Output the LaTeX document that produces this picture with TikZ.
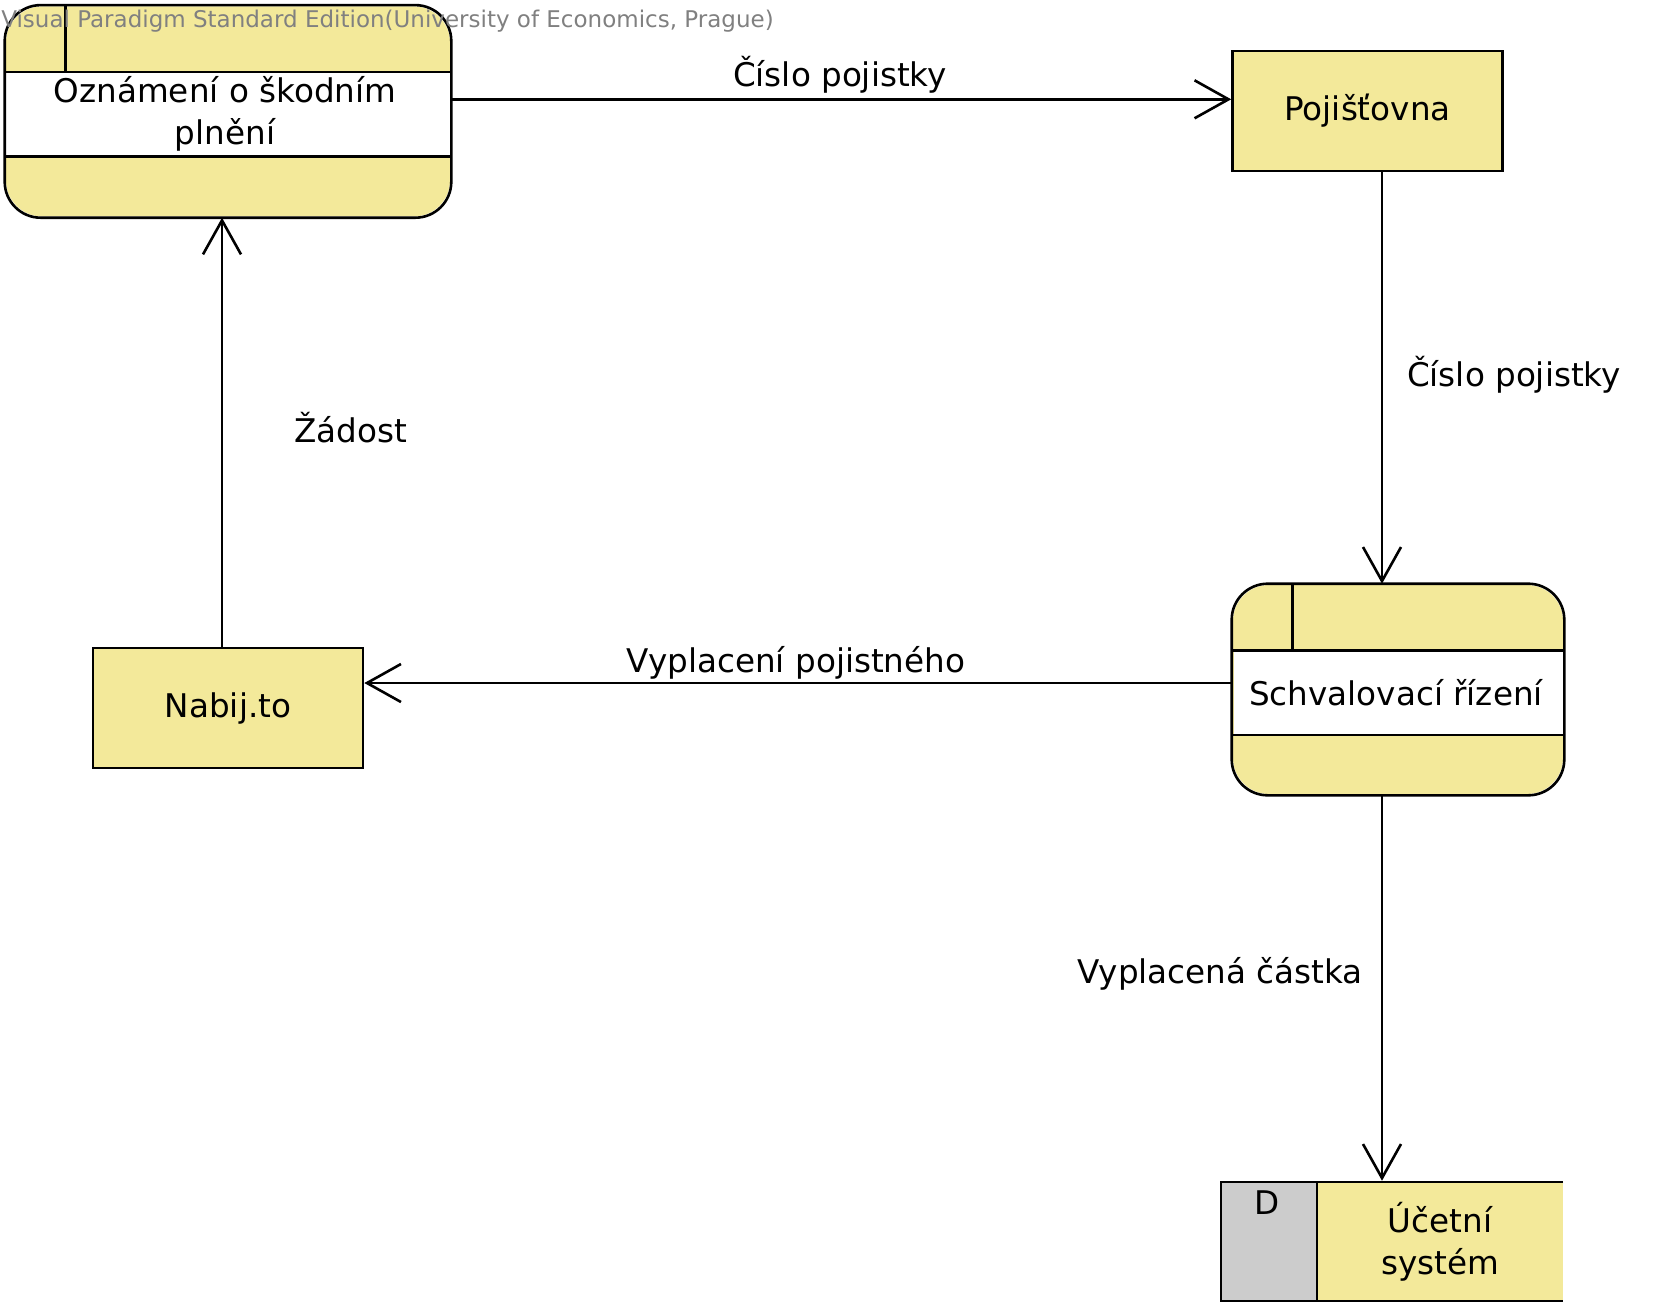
\documentclass[tikz,border=0pt]{standalone}
\usepackage{fontspec}
\setmainfont{DejaVu Sans}
\usetikzlibrary{arrows.meta}
\definecolor{procyellow}{RGB}{243, 233, 154}
\definecolor{storegray}{RGB}{204, 204, 204}
\definecolor{markgray}{RGB}{128, 128, 128}

\begin{document}
\begin{tikzpicture}[x=0.5pt, y=-0.5pt, line width=1.3pt,
  every node/.style={font=\fontsize{16.3}{21}\selectfont},
  entity/.style={draw, fill=procyellow, minimum width=135pt, minimum height=60pt, inner sep=0pt},
  process/.style={fill=procyellow, rounded corners=18pt, inner sep=0pt},
  flow/.style={-{Straight Barb[length=17pt, width=19pt]}},
  flowlabel/.style={inner sep=1pt}]
  \useasboundingbox (0,0) rectangle (1656,1314);

  % Process: Oznameni o skodnim plneni
  \node[process, minimum width=222pt, minimum height=105pt] (oznameni) at (228,111.4) {};
  \fill[white] (6.3,71.8) rectangle (450,156.3);
  \draw[rounded corners=18pt] (oznameni.south west) rectangle (oznameni.north east);
  \draw (oznameni.west |- 0,71.8) -- (oznameni.east |- 0,71.8);
  \draw (oznameni.west |- 0,156.3) -- (oznameni.east |- 0,156.3);
  \draw (65.5,0 |- oznameni.north) -- (65.5,71.8);
  \node[align=center] (oznameniText) at (225,114) {Oznámení o škodním\\plnění};

  % Entity: Pojistovna
  \node[entity] (pojistovna) at (1367.5,111) {Pojišťovna};

  % Process: Schvalovaci rizeni
  \node[process, minimum width=165pt, minimum height=104.5pt] (schval) at (1398,689.5) {};
  \fill[white] (1233.5,650.5) rectangle (1563,735);
  \draw[rounded corners=18pt] (schval.south west) rectangle (schval.north east);
  \draw (schval.west |- 0,650.5) -- (schval.east |- 0,650.5);
  \draw (schval.west |- 0,735) -- (schval.east |- 0,735);
  \draw (1292.6,0 |- schval.north) -- (1292.6,650.5);
  \node (schvalText) at (1396,693) {Schvalovací řízení};

  % Entity: Nabij.to
  \node[entity] (nabij) at (228,708) {Nabij.to};

  % Data store: Ucetni system
  \fill[storegray] (1221,1182) rectangle (1317,1301);
  \node[fill=procyellow, minimum width=123pt, minimum height=59.5pt, inner sep=0pt, align=center] (ucetni) at (1440,1241.5) {Účetní\\systém};
  \draw (1563,1182) -- (1221,1182) -- (1221,1301) -- (1563,1301);
  \draw (1317,1182) -- (1317,1301);
  \node (storeId) at (1267,1203) {D};

  % Data flows
  \draw[flow] (oznameni.east |- 0,99.3) -- (pojistovna.west |- 0,99.3);
  \draw[flow] (1382,0 |- pojistovna.south) -- (1382,0 |- schval.north);
  \draw[flow] (schval.west |- 0,683) -- (nabij.east |- 0,683);
  \draw[flow] (222,0 |- nabij.north) -- (222,0 |- oznameni.south);
  \draw[flow] (1382,0 |- schval.south) -- (1382,0 |- ucetni.north);

  % Flow labels
  \node[flowlabel] (cisloTop) at (840,75) {Číslo pojistky};
  \node[flowlabel] (cisloRight) at (1514,375) {Číslo pojistky};
  \node[flowlabel] (vyplaceni) at (796,663) {Vyplacení pojistného};
  \node[flowlabel] (zadost) at (351,428) {Žádost};
  \node[flowlabel] (castka) at (1220,974) {Vyplacená částka};

  % Watermark
  \node[anchor=west, inner sep=0pt, text=markgray, font=\fontsize{11.5}{13}\selectfont] (watermark) at (0,21) {Visual Paradigm Standard Edition(University of Economics, Prague)};
\end{tikzpicture}
\end{document}
